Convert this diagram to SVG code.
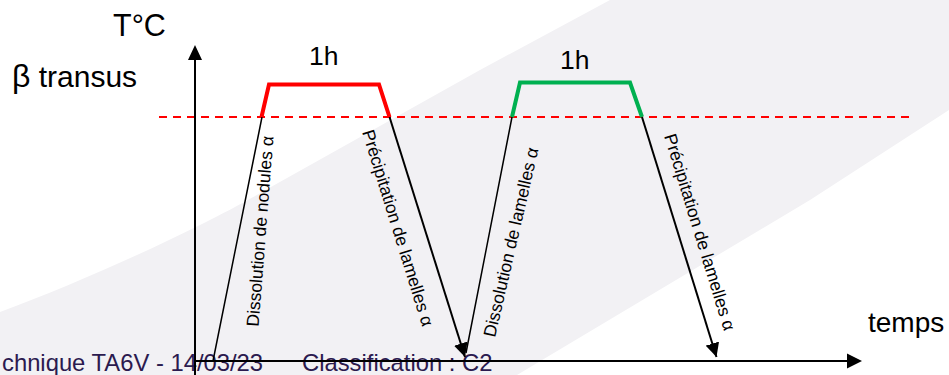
<svg xmlns="http://www.w3.org/2000/svg" width="949" height="375" viewBox="0 0 949 375">
  <style>
    .lbl { font-family: "Liberation Sans", Arial, sans-serif; fill: #000; }
    .axis { stroke: #000; stroke-width: 2; fill: none; }
    .thin { stroke: #000; stroke-width: 1.5; fill: none; }
    .cool { stroke: #000; stroke-width: 2; fill: none; marker-end: url(#head); }
    .hold { stroke-width: 4; fill: none; stroke-linejoin: miter; }
    .rot { font-size: 17.5px; }
  </style>
  <defs>
    <marker id="head" viewBox="0 0 14 14" refX="14" refY="7" markerWidth="14" markerHeight="14" markerUnits="userSpaceOnUse" orient="auto">
      <path d="M0,0 L14,7 L0,14 Z" fill="#000"/>
    </marker>
  </defs>

  <!-- page background with diagonal band -->
  <rect width="949" height="375" fill="#fff"/>
  <path d="M0,312 C60,290 140,255 200,225 C240,205 255,196 262,192 L480,70 L610,0 L949,0 L949,110 L810,200 L517,375 L0,375 Z" fill="#f2f1f4"/>

  <!-- footer -->
  <text class="lbl" x="2" y="371" font-size="23.8" style="fill:#2b1a4f">chnique TA6V - 14/03/23<tspan x="302">Classification : C2</tspan></text>

  <!-- beta transus level -->
  <line x1="159" y1="117" x2="910" y2="117" stroke="#ff0000" stroke-width="2" stroke-dasharray="8 6"/>

  <g id="axes">
    <line class="axis" x1="195" y1="375" x2="195" y2="58"/>
    <path d="M195,45 L202,60 L188,60 Z" fill="#000"/>
    <line class="axis" x1="195" y1="361" x2="849" y2="361"/>
    <path d="M862,361 L847,353.5 L847,368.5 Z" fill="#000"/>
  </g>

  <g id="connectors">
    <polyline class="thin" points="213,361 262,117 269,84.5"/>
    <line class="cool" x1="389.5" y1="117" x2="465" y2="357"/>
    <polyline class="thin" points="466,353 512,117 520,82"/>
    <line class="cool" x1="642" y1="117" x2="716.5" y2="357"/>
  </g>

  <g id="hold-1">
    <polyline class="hold" stroke="#ff0000" points="261.5,117 269,84.5 379,84.5 389.5,117"/>
    <text class="lbl" x="309" y="65" font-size="26.5">1h</text>
  </g>
  <g id="hold-2">
    <polyline class="hold" stroke="#00b050" points="512,117 520,82.5 630,82.5 642,117"/>
    <text class="lbl" x="560" y="69" font-size="26.5">1h</text>
  </g>

  <g id="labels">
    <text class="lbl" x="113" y="35.5" font-size="30.5">T°C</text>
    <text class="lbl" x="12" y="87" font-size="30"><tspan font-size="32">β</tspan> transus</text>
    <text class="lbl" x="868" y="332" font-size="28">temps</text>
    <text class="lbl rot" transform="translate(258.5,327) rotate(-85.5)">Dissolution de nodules α</text>
    <text class="lbl rot" transform="translate(362,132) rotate(72.8)">Précipitation de lamelles α</text>
    <text class="lbl rot" transform="translate(495,338) rotate(-77)">Dissolution de lamelles α</text>
    <text class="lbl rot" transform="translate(664,136) rotate(72.9)">Précipitation de lamelles α</text>
  </g>
</svg>
